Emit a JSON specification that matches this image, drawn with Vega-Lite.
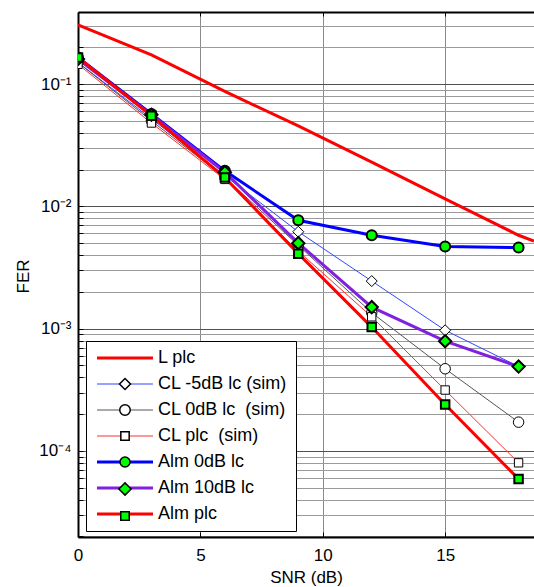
{
  "$schema": "https://vega.github.io/schema/vega-lite/v6.json",
  "width": 456,
  "height": 525,
  "autosize": {"type": "none"},
  "padding": {"left": 78, "top": 12, "right": 0, "bottom": 50},
  "background": "white",
  "config": {
    "font": "Liberation Sans",
    "view": {"stroke": null},
    "axis": {"labelFont": "Liberation Sans", "titleFont": "Liberation Sans", "labelColor": "black", "titleColor": "black", "titleFontWeight": "normal", "labelFontSize": 17, "titleFontSize": 17},
    "legend": {"labelFont": "Liberation Sans", "labelColor": "black"}
  },
  "data": {
    "values": [
      {"series": "L plc", "snr": 0, "fer": 0.305},
      {"series": "L plc", "snr": 3, "fer": 0.173},
      {"series": "L plc", "snr": 6, "fer": 0.087},
      {"series": "L plc", "snr": 9, "fer": 0.0454},
      {"series": "L plc", "snr": 12, "fer": 0.023},
      {"series": "L plc", "snr": 15, "fer": 0.0115},
      {"series": "L plc", "snr": 18, "fer": 0.0058},
      {"series": "L plc", "snr": 18.63, "fer": 0.0052},
      {"series": "CL -5dB lc (sim)", "snr": 0, "fer": 0.15},
      {"series": "CL -5dB lc (sim)", "snr": 3, "fer": 0.052},
      {"series": "CL -5dB lc (sim)", "snr": 6, "fer": 0.0178},
      {"series": "CL -5dB lc (sim)", "snr": 9, "fer": 0.0062},
      {"series": "CL -5dB lc (sim)", "snr": 12, "fer": 0.00245},
      {"series": "CL -5dB lc (sim)", "snr": 15, "fer": 0.00097},
      {"series": "CL -5dB lc (sim)", "snr": 18, "fer": 0.00049},
      {"series": "CL 0dB lc\u00a0 (sim)", "snr": 0, "fer": 0.15},
      {"series": "CL 0dB lc\u00a0 (sim)", "snr": 3, "fer": 0.05},
      {"series": "CL 0dB lc\u00a0 (sim)", "snr": 6, "fer": 0.0172},
      {"series": "CL 0dB lc\u00a0 (sim)", "snr": 9, "fer": 0.0048},
      {"series": "CL 0dB lc\u00a0 (sim)", "snr": 12, "fer": 0.00135},
      {"series": "CL 0dB lc\u00a0 (sim)", "snr": 15, "fer": 0.00047},
      {"series": "CL 0dB lc\u00a0 (sim)", "snr": 18, "fer": 0.000172},
      {"series": "CL plc\u00a0 (sim)", "snr": 0, "fer": 0.145},
      {"series": "CL plc\u00a0 (sim)", "snr": 3, "fer": 0.048},
      {"series": "CL plc\u00a0 (sim)", "snr": 6, "fer": 0.0166},
      {"series": "CL plc\u00a0 (sim)", "snr": 9, "fer": 0.0043},
      {"series": "CL plc\u00a0 (sim)", "snr": 12, "fer": 0.00125},
      {"series": "CL plc\u00a0 (sim)", "snr": 15, "fer": 0.000315},
      {"series": "CL plc\u00a0 (sim)", "snr": 18, "fer": 0.00008},
      {"series": "Alm 0dB lc", "snr": 0, "fer": 0.165},
      {"series": "Alm 0dB lc", "snr": 3, "fer": 0.057},
      {"series": "Alm 0dB lc", "snr": 6, "fer": 0.0195},
      {"series": "Alm 0dB lc", "snr": 9, "fer": 0.0077},
      {"series": "Alm 0dB lc", "snr": 12, "fer": 0.0058},
      {"series": "Alm 0dB lc", "snr": 15, "fer": 0.0047},
      {"series": "Alm 0dB lc", "snr": 18, "fer": 0.0046},
      {"series": "Alm 10dB lc", "snr": 0, "fer": 0.16},
      {"series": "Alm 10dB lc", "snr": 3, "fer": 0.056},
      {"series": "Alm 10dB lc", "snr": 6, "fer": 0.019},
      {"series": "Alm 10dB lc", "snr": 9, "fer": 0.005},
      {"series": "Alm 10dB lc", "snr": 12, "fer": 0.0015},
      {"series": "Alm 10dB lc", "snr": 15, "fer": 0.00079},
      {"series": "Alm 10dB lc", "snr": 18, "fer": 0.00049},
      {"series": "Alm plc", "snr": 0, "fer": 0.165},
      {"series": "Alm plc", "snr": 3, "fer": 0.055},
      {"series": "Alm plc", "snr": 6, "fer": 0.0172},
      {"series": "Alm plc", "snr": 9, "fer": 0.0041},
      {"series": "Alm plc", "snr": 12, "fer": 0.00103},
      {"series": "Alm plc", "snr": 15, "fer": 0.00024},
      {"series": "Alm plc", "snr": 18, "fer": 0.000059}
    ]
  },
  "layer": [
    {
      "mark": {"type": "line", "clip": true},
      "encoding": {
        "x": {
          "field": "snr", "type": "quantitative",
          "scale": {"domain": [0, 18.63], "nice": false, "zero": false},
          "title": "SNR (dB)",
          "axis": {"orient": "bottom", "values": [0, 5, 10, 15], "grid": true, "gridColor": "#8a8a8a", "gridWidth": 1, "tickSize": -5, "tickColor": "black", "domainColor": "black", "domainWidth": 2, "labelPadding": 28, "labelBaseline": "alphabetic", "labelFlush": false, "titleBaseline": "alphabetic", "titleY": 45.5}
        },
        "y": {
          "field": "fer", "type": "quantitative",
          "scale": {"type": "log", "domain": [0.0000198, 0.388], "nice": false},
          "title": "FER",
          "axis": {"orient": "left", "values": [0.00002, 0.00003, 0.00004, 0.00005, 0.00006, 0.00007, 0.00008, 0.00009, 0.0001, 0.0002, 0.0003, 0.0004, 0.0005, 0.0006, 0.0007, 0.0008, 0.0009, 0.001, 0.002, 0.003, 0.004, 0.005, 0.006, 0.007, 0.008, 0.009, 0.01, 0.02, 0.03, 0.04, 0.05, 0.06, 0.07, 0.08, 0.09, 0.1, 0.2, 0.3],
            "labelExpr": "datum.value===0.1?'10⁻¹':datum.value===0.01?'10⁻²':datum.value===0.001?'10⁻³':datum.value===0.0001?'10⁻⁴':''",
            "grid": true, "gridColor": {"condition": {"test": "indexof([0.1,0.01,0.001,0.0001], datum.value) >= 0", "value": "#505050"}, "value": "#9a9a9a"}, "gridWidth": 1,
            "tickSize": -5, "tickColor": "black", "domainColor": "black", "domainWidth": 2, "labelPadding": 12, "titleX": -50, "titleY": 264, "titleBaseline": "alphabetic"}
        },
        "color": {
          "field": "series", "type": "nominal",
          "scale": {"domain": ["L plc", "CL -5dB lc (sim)", "CL 0dB lc\u00a0 (sim)", "CL plc\u00a0 (sim)", "Alm 0dB lc", "Alm 10dB lc", "Alm plc"], "range": ["#ff0000", "#3344ff", "#555555", "#ff3030", "#0000ff", "#8020e0", "#ff0000"]},
          "legend": {"orient": "none", "legendX": 8, "legendY": 329, "title": null, "symbolType": "M-5,0H5", "symbolSize": 125.4, "symbolFillColor": "transparent", "padding": 8, "rowPadding": 8, "strokeColor": "black", "fillColor": "white", "labelFontSize": 18, "labelOffset": 24, "symbolOffset": 22, "labelLimit": 400, "zindex": 1}
        },
        "strokeWidth": {
          "field": "series", "type": "nominal",
          "scale": {"type": "ordinal", "domain": ["L plc", "CL -5dB lc (sim)", "CL 0dB lc\u00a0 (sim)", "CL plc\u00a0 (sim)", "Alm 0dB lc", "Alm 10dB lc", "Alm plc"], "range": [3, 1, 1, 1, 3, 3, 3]},
          "legend": {"orient": "none", "legendX": 8, "legendY": 329, "title": null, "symbolType": "M-5,0H5", "symbolSize": 125.4, "symbolFillColor": "transparent", "padding": 8, "rowPadding": 8, "strokeColor": "black", "fillColor": "white", "labelFontSize": 18, "labelOffset": 24, "symbolOffset": 22, "labelLimit": 400, "zindex": 1}
        }
      }
    },
    {
      "transform": [{"filter": "datum.series !== 'L plc'"}],
      "mark": {"type": "point", "filled": true, "opacity": 1, "stroke": "black", "clip": true},
      "encoding": {
        "x": {
          "field": "snr", "type": "quantitative",
          "scale": {"domain": [0, 18.63], "nice": false, "zero": false},
          "title": null,
          "axis": {"orient": "top", "values": [0, 5, 10, 15], "labels": false, "grid": false, "tickSize": -4, "tickColor": "black", "domainColor": "black", "domainWidth": 2, "title": null}
        },
        "y": {
          "field": "fer", "type": "quantitative",
          "scale": {"type": "log", "domain": [0.0000198, 0.388], "nice": false},
          "title": "FER",
          "axis": {"orient": "left", "values": [0.00002, 0.00003, 0.00004, 0.00005, 0.00006, 0.00007, 0.00008, 0.00009, 0.0001, 0.0002, 0.0003, 0.0004, 0.0005, 0.0006, 0.0007, 0.0008, 0.0009, 0.001, 0.002, 0.003, 0.004, 0.005, 0.006, 0.007, 0.008, 0.009, 0.01, 0.02, 0.03, 0.04, 0.05, 0.06, 0.07, 0.08, 0.09, 0.1, 0.2, 0.3],
            "labelExpr": "datum.value===0.1?'10⁻¹':datum.value===0.01?'10⁻²':datum.value===0.001?'10⁻³':datum.value===0.0001?'10⁻⁴':''",
            "grid": true, "gridColor": {"condition": {"test": "indexof([0.1,0.01,0.001,0.0001], datum.value) >= 0", "value": "#505050"}, "value": "#9a9a9a"}, "gridWidth": 1,
            "tickSize": -5, "tickColor": "black", "domainColor": "black", "domainWidth": 2, "labelPadding": 12, "titleX": -50, "titleY": 264, "titleBaseline": "alphabetic"}
        },
        "shape": {
          "field": "series", "type": "nominal",
          "scale": {"domain": ["CL -5dB lc (sim)", "CL 0dB lc\u00a0 (sim)", "CL plc\u00a0 (sim)", "Alm 0dB lc", "Alm 10dB lc", "Alm plc"], "range": ["diamond", "circle", "square", "circle", "diamond", "square"]},
          "legend": {"orient": "none", "legendX": 8, "legendY": 355, "title": null, "padding": 8, "rowPadding": 8, "labelFontSize": 18, "labelExpr": "''", "symbolOffset": 22, "zindex": 2, "symbolOpacity": 1, "encode": {"symbols": {"update": {"stroke": {"value": "black"}, "strokeWidth": {"signal": "indexof(datum.value,'Alm')===0?2:1"}}}}}
        },
        "fill": {
          "field": "series", "type": "nominal",
          "scale": {"domain": ["CL -5dB lc (sim)", "CL 0dB lc\u00a0 (sim)", "CL plc\u00a0 (sim)", "Alm 0dB lc", "Alm 10dB lc", "Alm plc"], "range": ["white", "white", "white", "#00ff00", "#00ff00", "#00ff00"]},
          "legend": {"orient": "none", "legendX": 8, "legendY": 355, "title": null, "padding": 8, "rowPadding": 8, "labelFontSize": 18, "labelExpr": "''", "symbolOffset": 22, "zindex": 2, "symbolOpacity": 1, "encode": {"symbols": {"update": {"stroke": {"value": "black"}, "strokeWidth": {"signal": "indexof(datum.value,'Alm')===0?2:1"}}}}}
        },
        "size": {
          "field": "series", "type": "nominal",
          "scale": {"type": "ordinal", "domain": ["CL -5dB lc (sim)", "CL 0dB lc\u00a0 (sim)", "CL plc\u00a0 (sim)", "Alm 0dB lc", "Alm 10dB lc", "Alm plc"], "range": [121, 110, 70, 100, 150, 72]},
          "legend": {"orient": "none", "legendX": 8, "legendY": 355, "title": null, "padding": 8, "rowPadding": 8, "labelFontSize": 18, "labelExpr": "''", "symbolOffset": 22, "zindex": 2, "symbolOpacity": 1, "encode": {"symbols": {"update": {"stroke": {"value": "black"}, "strokeWidth": {"signal": "indexof(datum.value,'Alm')===0?2:1"}}}}}
        },
        "strokeWidth": {"condition": {"test": "indexof(datum.series,'Alm')===0", "value": 2}, "value": 1}
      }
    }
  ]
}
